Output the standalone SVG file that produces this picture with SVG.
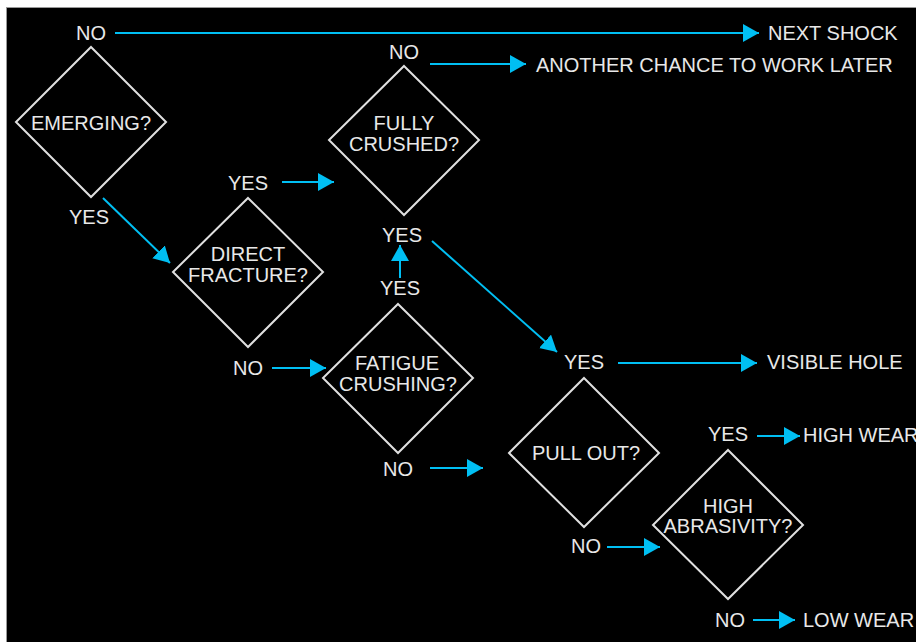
<svg xmlns="http://www.w3.org/2000/svg" width="916" height="642" viewBox="0 0 916 642">
<defs>
<marker id="ah" markerUnits="userSpaceOnUse" markerWidth="17" markerHeight="19" refX="16" refY="9" orient="auto">
<path d="M0,0 L16,9 L0,18 z" fill="#00bff3"/>
</marker>
<style>
.bg{fill:#000;stroke:#999;stroke-width:1}
.d{fill:none;stroke:#e0e0e0;stroke-width:2}
.t{font-family:"Liberation Sans",Arial,sans-serif;font-size:20px;fill:#e8e8e8}
.m{text-anchor:middle}
.c line{stroke:#00bff3;stroke-width:2;marker-end:url(#ah)}
</style>
</defs>
<rect width="916" height="642" fill="#fff"/>
<rect class="bg" x="6.5" y="7.5" width="912" height="640"/>

<g id="emerging">
<path class="d" d="M91,47 L166,122 L91,197 L16,122 Z"/>
<text class="t m" x="91" y="130">EMERGING?</text>
</g>
<g id="fully-crushed">
<path class="d" d="M404,66 L479,140 L404,215 L329,140 Z"/>
<text class="t m" x="404" y="130">FULLY</text>
<text class="t m" x="404" y="151">CRUSHED?</text>
</g>
<g id="direct-fracture">
<path class="d" d="M248,198 L323,272 L248,347 L173,272 Z"/>
<text class="t m" x="248" y="261">DIRECT</text>
<text class="t m" x="248" y="282">FRACTURE?</text>
</g>
<g id="fatigue-crushing">
<path class="d" d="M398,304 L473,378 L398,453 L323,378 Z"/>
<text class="t m" x="397" y="370">FATIGUE</text>
<text class="t m" x="398" y="391">CRUSHING?</text>
</g>
<g id="pull-out">
<path class="d" d="M584,378 L659,453 L584,527 L509,453 Z"/>
<text class="t m" x="586" y="460">PULL OUT?</text>
</g>
<g id="high-abrasivity">
<path class="d" d="M728,450 L803,525 L728,599 L653,525 Z"/>
<text class="t m" x="728" y="513">HIGH</text>
<text class="t m" x="728" y="533">ABRASIVITY?</text>
</g>

<g id="labels">
<text class="t m" x="91" y="40">NO</text>
<text class="t" x="768" y="40">NEXT SHOCK</text>
<text class="t m" x="404" y="59">NO</text>
<text class="t" x="536" y="72">ANOTHER CHANCE TO WORK LATER</text>
<text class="t m" x="248" y="190">YES</text>
<text class="t m" x="89" y="224">YES</text>
<text class="t m" x="402" y="242">YES</text>
<text class="t m" x="400" y="295">YES</text>
<text class="t m" x="248" y="375">NO</text>
<text class="t m" x="398" y="476">NO</text>
<text class="t m" x="584" y="369">YES</text>
<text class="t" x="767" y="369">VISIBLE HOLE</text>
<text class="t m" x="728" y="441">YES</text>
<text class="t" x="803" y="442">HIGH WEAR</text>
<text class="t m" x="586" y="553">NO</text>
<text class="t m" x="730" y="627">NO</text>
<text class="t" x="803" y="627">LOW WEAR</text>
</g>

<g id="connectors" class="c">
<line x1="115" y1="33" x2="759" y2="33"/>
<line x1="430" y1="64" x2="526" y2="64"/>
<line x1="282" y1="182" x2="334" y2="182"/>
<line x1="103" y1="198" x2="170" y2="263"/>
<line x1="400" y1="278" x2="400" y2="245"/>
<line x1="432" y1="241" x2="557" y2="352"/>
<line x1="272" y1="368" x2="326" y2="368"/>
<line x1="430" y1="468" x2="483" y2="468"/>
<line x1="618" y1="363" x2="757" y2="363"/>
<line x1="757" y1="436" x2="800" y2="436"/>
<line x1="607" y1="547" x2="660" y2="547"/>
<line x1="753" y1="620" x2="795" y2="620"/>
</g>
</svg>
